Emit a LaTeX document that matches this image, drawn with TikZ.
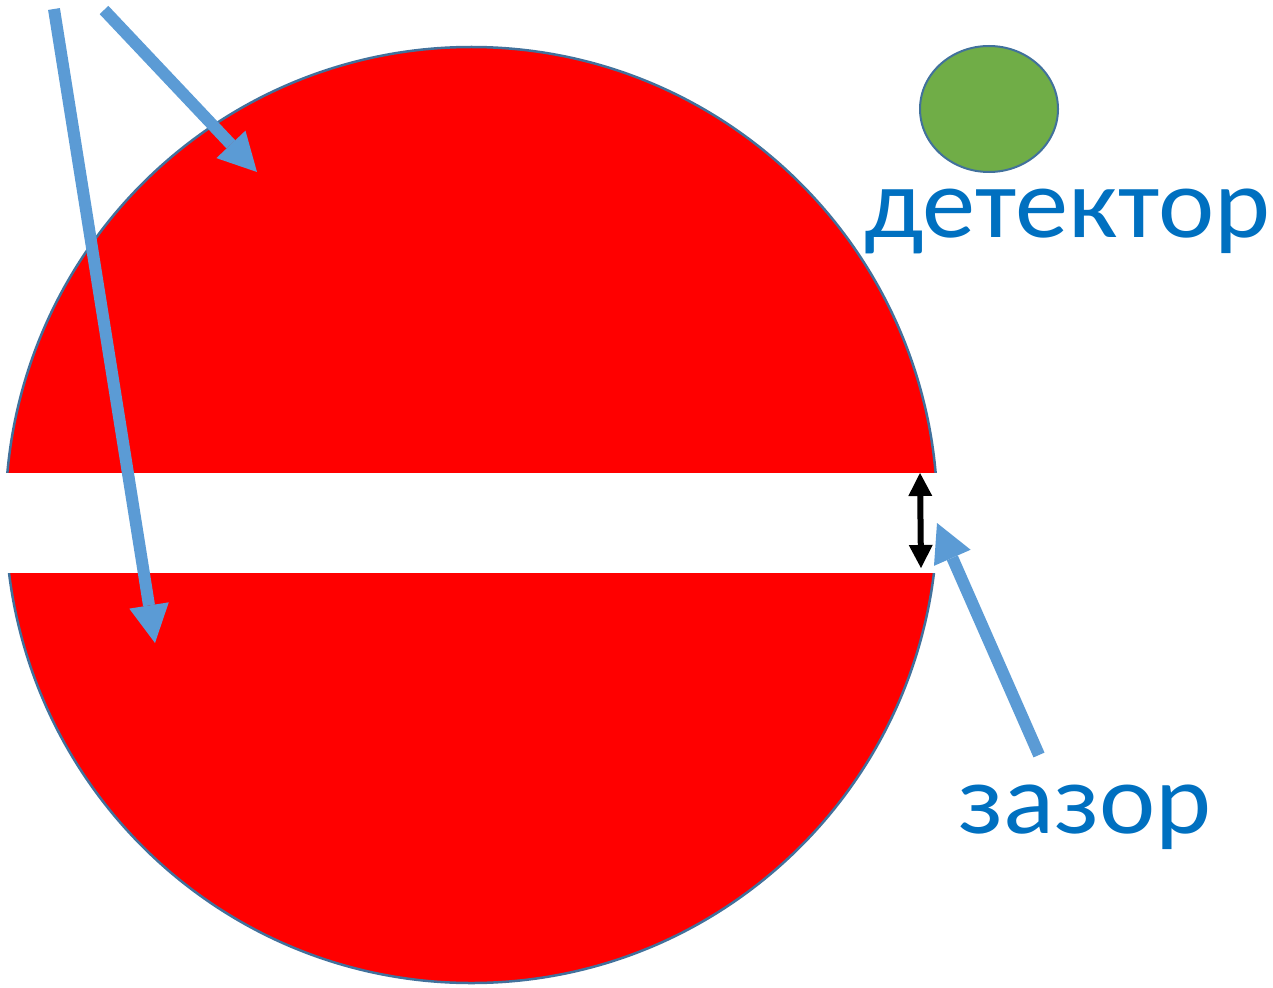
\documentclass[tikz,border=0pt]{standalone}
\usepackage{fontspec}
\setmainfont{Carlito}
\newfontfamily\lblfont{Carlito}[FakeStretch=1.065]
\usetikzlibrary{arrows.meta,shapes.geometric}
\definecolor{disk}{HTML}{FF0000}
\definecolor{edge}{HTML}{41719C}
\definecolor{ray}{HTML}{5B9BD5}
\definecolor{det}{HTML}{70AD47}
\definecolor{lbl}{HTML}{0070C0}
\tikzset{
  raypath/.style={draw=ray, line width=12pt, -{Triangle[length=38pt,width=40pt,line width=0pt]}},
  gaparrow/.style={draw=black, line width=6pt, {Triangle[length=23pt,width=24pt,line width=0pt]}-{Triangle[length=23pt,width=24pt,line width=0pt]}},
  label/.style={text=lbl, inner sep=0pt, anchor=base west, font=\lblfont\fontsize{100pt}{110pt}\selectfont},
}
\begin{document}
\begin{tikzpicture}[x=1pt,y=-1pt]
\useasboundingbox (0,0) rectangle (1273,987);
% disk
\path[fill=disk, draw=edge, line width=2.5pt] (471.5,515) ellipse [x radius=466, y radius=468];
% gap
\fill[white] (0,473) rectangle (945,573);
% detector
\node[ellipse, draw=edge, fill=det, line width=2pt, minimum width=138pt, minimum height=126pt, inner sep=0pt] (detector) at (989,109) {};
\node[label] (dettext) at (864,237) {детектор};
\node[label] (gaptext) at (958,833) {зазор};
% rays
\coordinate (r1s) at (54,9);
\coordinate (r1e) at (155,643);
\coordinate (r2s) at (104,10);
\coordinate (r2e) at (257,172);
\coordinate (r3s) at (1039,755);
\coordinate (r3e) at (937,523);
\draw[raypath] (r1s) -- (r1e);
\draw[raypath] (r2s) -- (r2e);
\draw[raypath] (r3s) -- (r3e);
% gap size
\coordinate (g1) at (920,473);
\coordinate (g2) at (921,568);
\draw[gaparrow] (g1) -- (g2);
\end{tikzpicture}
\end{document}
